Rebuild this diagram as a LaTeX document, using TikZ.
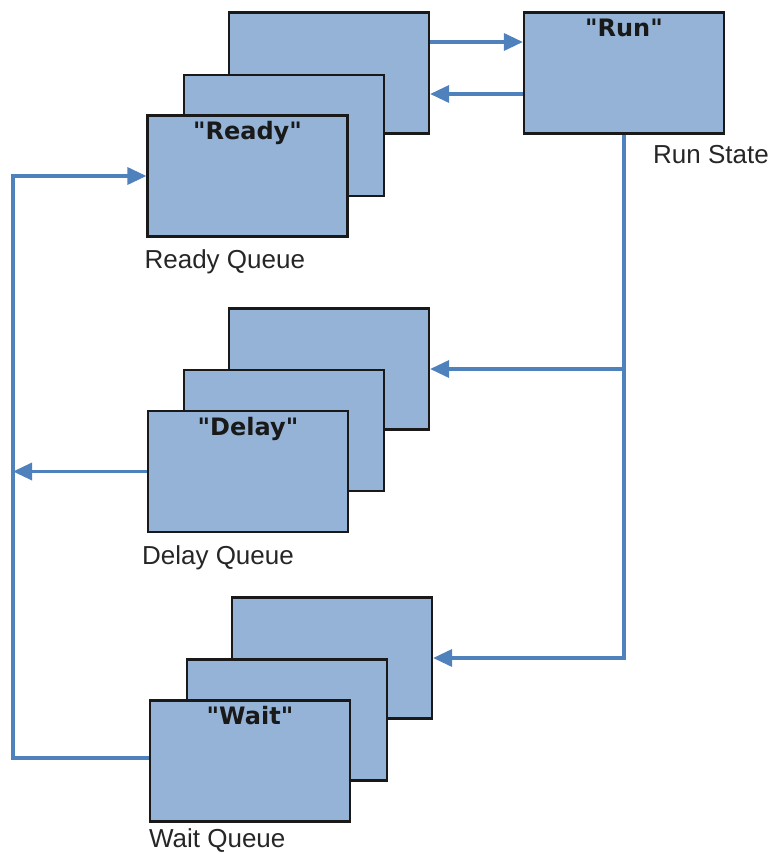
\documentclass[tikz,border=0pt]{standalone}
\usepackage{fontspec}
\setmainfont{Liberation Sans}
\newfontfamily\titlefont{DejaVu Sans}
\usetikzlibrary{arrows.meta,positioning}
\definecolor{boxfill}{HTML}{95B3D7}
\definecolor{flowblue}{HTML}{4F81BD}

\begin{document}
\begin{tikzpicture}[x=1pt, y=-1pt, >={Triangle[length=19pt,width=17pt]}]
	\tikzset{queue/.style={draw=black!90, line width=2.2pt, fill=boxfill, minimum width=200pt, minimum height=121pt, inner sep=0pt}}
	\tikzstyle{flow}=[->, draw=flowblue, line width=3.4pt]
	\tikzstyle{title}=[anchor=north, inner sep=0pt, yshift=-7pt, text=black!90, font=\titlefont\bfseries\fontsize{24}{28}\selectfont]
	\tikzstyle{caption}=[anchor=north west, inner sep=0pt, text=black!85, font=\fontsize{26}{30}\selectfont]

	\useasboundingbox (0,0) rectangle (772,854);

	%READY
	\node[queue] (r3) at (329,73) {};
	\node[queue] (r2) at (284,135.5) {};
	\node[queue] (r1) at (247.5,176) {};
	\node[title] (rt) at (r1.north) {"Ready"};
	\node[caption] (rq) at ([xshift=-2pt,yshift=-12pt]r1.south west) {Ready Queue};

	%RUN
	\node[queue] (run) at (624,73) {};
	\node[title] (nt) at (run.north) {"Run"};
	\node[caption] (ns) at ([xshift=29pt,yshift=-11pt]run.south) {Run State};

	%DELAY
	\node[queue] (d3) at (329,369) {};
	\node[queue] (d2) at (284,430.5) {};
	\node[queue] (d1) at (248,471.5) {};
	\node[title] (dt) at (d1.north) {"Delay"};
	\node[caption] (dq) at ([xshift=-5pt,yshift=-12pt]d1.south west) {Delay Queue};

	%WAIT
	\node[queue] (w3) at (332,658) {};
	\node[queue] (w2) at (287,720) {};
	\node[queue] (w1) at (250,761) {};
	\node[title] (wt) at (w1.north) {"Wait"};
	\node[caption] (wq) at ([xshift=0pt,yshift=-6pt]w1.south west) {Wait Queue};

	\coordinate (bus) at (13,0);

	%ARROWS
	\draw[flow] ([yshift=31pt]r3.east) -- ([yshift=31pt]run.west);
	\draw[flow] ([yshift=-21pt]run.west) -- ([yshift=-21pt]r3.east);
	\draw[flow] (run.south) |- (d3.east);
	\draw[flow] (run.south) |- (w3.east);
	\draw[flow] (d1.west) -- (d1.west -| bus);
	\draw[flow] ([yshift=3pt]w1.west) -| (r1.west -| bus) -- (r1.west);
\end{tikzpicture}
\end{document}
